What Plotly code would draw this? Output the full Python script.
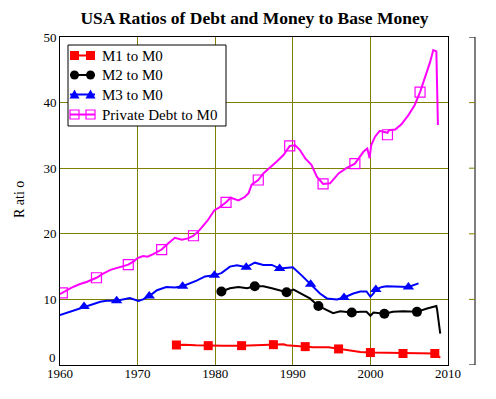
import plotly.graph_objects as go

# ---------------- data ----------------
debt_years = [1960.0, 1960.3, 1961.5, 1962.5, 1963.5, 1964.7, 1965.5, 1966.5, 1967.5, 1968.8,
              1969.5, 1970.0, 1970.7, 1971.3, 1972.0, 1973.1, 1974.0, 1974.8, 1975.7, 1976.5,
              1977.2, 1978.0, 1979.0, 1979.9, 1980.5, 1981.4, 1982.0, 1983.0, 1983.8, 1984.3,
              1984.7, 1985.55, 1986.2, 1987.0, 1987.9, 1988.8, 1989.6, 1990.3, 1990.9, 1991.6,
              1992.4, 1993.1, 1993.9, 1994.8, 1995.9, 1996.9, 1998.0, 1999.1, 1999.6, 1999.9,
              2000.1, 2000.6, 2001.2, 2002.2, 2002.4, 2003.2, 2004.0, 2004.9, 2005.7, 2006.4,
              2007.0, 2007.7, 2008.1, 2008.5, 2008.7]
debt_values = [10.8, 11.0, 11.8, 12.3, 12.7, 13.3, 13.9, 14.5, 14.9, 15.3,
               15.8, 16.3, 16.6, 16.5, 16.9, 17.6, 18.6, 19.4, 19.1, 19.3,
               19.7, 20.6, 22.0, 23.6, 24.0, 24.8, 25.5, 25.1, 25.6, 26.2,
               27.5, 28.2, 29.2, 30.0, 31.0, 32.0, 33.4, 33.5, 32.8, 31.5,
               30.5, 28.7, 27.6, 27.7, 29.2, 30.0, 30.7, 32.5, 33.0, 31.5,
               33.5, 34.8, 35.7, 35.4, 35.8, 35.9, 36.7, 38.1, 39.6, 41.6,
               43.7, 46.2, 48.0, 47.8, 36.6]
debt_marker_years = [1960.3, 1964.7, 1968.8, 1973.1, 1977.2, 1981.4, 1985.55, 1989.6,
                     1993.9, 1998.0, 2002.2, 2006.4]
debt_marker_values = [11.0, 13.3, 15.3, 17.6, 19.7, 24.8, 28.2, 33.4, 27.6, 30.7, 35.1, 41.6]

m3_years = [1960.0, 1961.0, 1963.1, 1965.2, 1966.0, 1967.3, 1969.0, 1970.1, 1970.7, 1971.5,
            1972.5, 1973.7, 1974.8, 1975.8, 1977.6, 1978.7, 1979.9, 1980.8, 1981.9, 1982.8,
            1984.0, 1985.1, 1986.2, 1987.3, 1988.3, 1989.6, 1990.0, 1991.1, 1992.3, 1993.5,
            1994.4, 1995.7, 1996.6, 1997.8, 1998.7, 1999.5, 2000.0, 2000.4, 2000.7, 2001.5,
            2002.1, 2003.8, 2004.9, 2006.2]
m3_values = [7.6, 8.0, 8.9, 9.65, 9.8, 9.8, 10.2, 9.75, 10.0, 10.5,
             11.4, 11.9, 11.8, 12.0, 12.85, 13.5, 13.7, 14.0, 15.0, 15.2,
             14.9, 15.6, 15.25, 15.25, 14.7, 14.9, 14.9, 13.7, 12.3, 10.9,
             10.15, 10.0, 10.3, 10.9, 11.2, 11.2, 10.4, 10.9, 11.5, 11.9,
             12.0, 11.9, 11.9, 12.45]
m3_marker_years = [1963.1, 1967.3, 1971.5, 1975.8, 1979.9, 1984.0, 1988.3, 1992.3,
                   1996.6, 2000.7, 2004.9]
m3_marker_values = [8.9, 9.8, 10.5, 12.0, 13.7, 14.9, 14.7, 12.3, 10.3, 11.5, 11.9]

m2_years = [1980.8, 1981.9, 1983.0, 1984.1, 1985.1, 1986.2, 1987.3, 1988.4, 1989.2, 1990.1,
            1991.1, 1992.2, 1993.3, 1994.4, 1995.2, 1996.1, 1997.6, 1998.7, 1999.5, 2000.0,
            2000.4, 2001.8, 2002.9, 2004.2, 2006.0, 2007.3, 2008.5, 2008.6, 2008.75, 2009.0]
m2_values = [11.2, 11.7, 11.9, 11.7, 12.0, 12.0, 11.7, 11.4, 11.1, 11.5,
             10.9, 10.15, 9.0, 8.4, 7.9, 8.2, 8.0, 8.1, 8.1, 7.5,
             8.0, 7.8, 8.1, 8.2, 8.1, 8.6, 9.0, 8.4, 6.9, 4.8]
m2_marker_years = [1980.8, 1985.1, 1989.2, 1993.3, 1997.6, 2001.8, 2006.0]
m2_marker_values = [11.2, 12.0, 11.1, 9.0, 8.0, 7.8, 8.1]

m1_years = [1975.0, 1976.0, 1977.5, 1979.1, 1981.0, 1983.4, 1986.2, 1987.5, 1988.8, 1989.2,
            1991.6, 1992.6, 1994.6, 1995.9, 1997.4, 1998.7, 2000.0, 2001.6, 2004.2, 2006.3,
            2008.3, 2009.0]
m1_values = [3.05, 3.1, 3.0, 2.95, 2.95, 2.95, 3.05, 3.1, 3.15, 3.0,
             2.8, 2.7, 2.7, 2.45, 2.2, 2.0, 1.9, 1.85, 1.75, 1.8,
             1.75, 1.1]
m1_marker_years = [1975.0, 1979.1, 1983.4, 1987.5, 1991.6, 1995.9, 2000.0, 2004.2, 2008.3]
m1_marker_values = [3.05, 2.95, 2.95, 3.1, 2.8, 2.45, 1.9, 1.75, 1.75]

series_names = ["M1 to M0", "M2 to M0", "M3 to M0", "Private Debt to M0"]
x_ticks = [1960, 1970, 1980, 1990, 2000, 2010]
y_ticks = [0, 10, 20, 30, 40, 50]

# ---------------- figure ----------------
FONT = "Liberation Serif"
RED, BLACK, BLUE, MAG, OLIVE = "#ff0000", "#000000", "#0000ff", "#ff00ff", "#808000"
fig = go.Figure()

series = [
    (m1_years, m1_values, m1_marker_years, m1_marker_values, RED,
     dict(symbol="square", size=9, color=RED)),
    (m2_years, m2_values, m2_marker_years, m2_marker_values, BLACK,
     dict(symbol="circle", size=10, color=BLACK)),
    (m3_years, m3_values, m3_marker_years, m3_marker_values, BLUE,
     dict(symbol="triangle-up", size=10, color=BLUE)),
    (debt_years, debt_values, debt_marker_years, debt_marker_values, MAG,
     dict(symbol="square-open", size=10, color=MAG, line=dict(width=1.2, color=MAG))),
]

for xs, ys, mx, my, col, mk in reversed(series):
    fig.add_trace(go.Scatter(x=xs, y=ys, mode="lines", line=dict(color=col, width=2),
                             showlegend=False, hoverinfo="skip"))
    fig.add_trace(go.Scatter(x=mx, y=my, mode="markers", marker=mk,
                             showlegend=False, hoverinfo="skip"))

# plot area on screen: x 60..448, y 37..365 (page has an 8px body margin)
def px(sx):
    return (sx - 60) / 388.0

def py(sy):
    return (365 - sy) / 328.0

shapes = []
annotations = []

# right-side empty bracket axis
shapes.append(dict(type="line", xref="paper", yref="paper", x0=px(475), x1=px(475), y0=0, y1=1,
                   line=dict(color=BLACK, width=1)))
for v in y_ticks:
    col = BLACK if v in (0, 50) else OLIVE
    shapes.append(dict(type="line", xref="paper", yref="y", x0=px(469), x1=px(475), y0=v, y1=v,
                       line=dict(color=col, width=1)))

# custom legend (two markers joined by a line, like the reference)
shapes.append(dict(type="rect", xref="paper", yref="paper", x0=px(68), x1=px(226),
                   y0=py(126), y1=py(45), line=dict(color=BLACK, width=1), fillcolor="white"))
rows = [55.5, 75, 94.5, 114.5]
for (xs, ys, mx, my, col, mk), name, ry in zip(series, series_names, rows):
    shapes.append(dict(type="line", xref="paper", yref="paper", x0=px(70), x1=px(95),
                       y0=py(ry), y1=py(ry), line=dict(color=col, width=2)))
    for cx in (74.5, 90.5):
        sym = mk["symbol"]
        if sym == "square":
            shapes.append(dict(type="rect", xref="paper", yref="paper",
                               x0=px(cx - 4.5), x1=px(cx + 4.5), y0=py(ry + 4.5), y1=py(ry - 4.5),
                               line=dict(width=0), fillcolor=col))
        elif sym == "circle":
            shapes.append(dict(type="circle", xref="paper", yref="paper",
                               x0=px(cx - 4.5), x1=px(cx + 4.5), y0=py(ry + 4.5), y1=py(ry - 4.5),
                               line=dict(width=0), fillcolor=col))
        elif sym == "triangle-up":
            path = "M {} {} L {} {} L {} {} Z".format(px(cx - 5), py(ry + 4), px(cx + 5), py(ry + 4),
                                                      px(cx), py(ry - 5))
            shapes.append(dict(type="path", xref="paper", yref="paper", path=path,
                               line=dict(width=0), fillcolor=col))
        else:
            shapes.append(dict(type="rect", xref="paper", yref="paper",
                               x0=px(cx - 4.5), x1=px(cx + 4.5), y0=py(ry + 4.5), y1=py(ry - 4.5),
                               line=dict(width=1.2, color=col), fillcolor="rgba(0,0,0,0)"))
    annotations.append(dict(text=name, xref="paper", yref="paper", x=px(100), y=py(ry),
                            xanchor="left", yanchor="middle", showarrow=False,
                            font=dict(family=FONT, size=15, color=BLACK)))

# y-axis label
annotations.append(dict(text="R ati o", xref="paper", yref="paper", x=px(19), y=py(200),
                        textangle=-90, showarrow=False, xanchor="center", yanchor="middle",
                        font=dict(family=FONT, size=14, color=BLACK)))
# the "0" y label sits just above the x axis in the reference
annotations.append(dict(text="0", xref="paper", yref="paper", x=px(58), y=py(367),
                        showarrow=False, xanchor="right", yanchor="bottom",
                        font=dict(family=FONT, size=13, color=BLACK)))

fig.update_layout(
    width=488, height=391,
    margin=dict(l=52, r=48, t=29, b=34),
    paper_bgcolor="white", plot_bgcolor="white",
    font=dict(family=FONT, size=13, color="black"),
    title=dict(text="<b>USA Ratios of Debt and Money to Base Money</b>",
               x=0.505, xanchor="center", y=1 - 10 / 391.0, yanchor="middle",
               font=dict(family=FONT, size=17.5, color="black")),
    showlegend=False,
    shapes=shapes,
    annotations=annotations,
)
fig.update_xaxes(range=[1960, 2010], tickvals=x_ticks, ticktext=[str(t) for t in x_ticks],
                 showgrid=True, gridcolor=OLIVE, gridwidth=1,
                 showline=True, linecolor="black", linewidth=1, mirror=True,
                 ticks="", ticklen=0, ticklabelstandoff=-4, zeroline=False,
                 tickfont=dict(family=FONT, size=13))
fig.update_yaxes(range=[0, 50], tickvals=y_ticks[1:], ticktext=[str(t) for t in y_ticks[1:]],
                 showgrid=True, gridcolor=OLIVE, gridwidth=1,
                 showline=True, linecolor="black", linewidth=1, mirror=True,
                 ticks="", ticklen=0, zeroline=False, tickfont=dict(family=FONT, size=13))

fig.write_html("out.html")
